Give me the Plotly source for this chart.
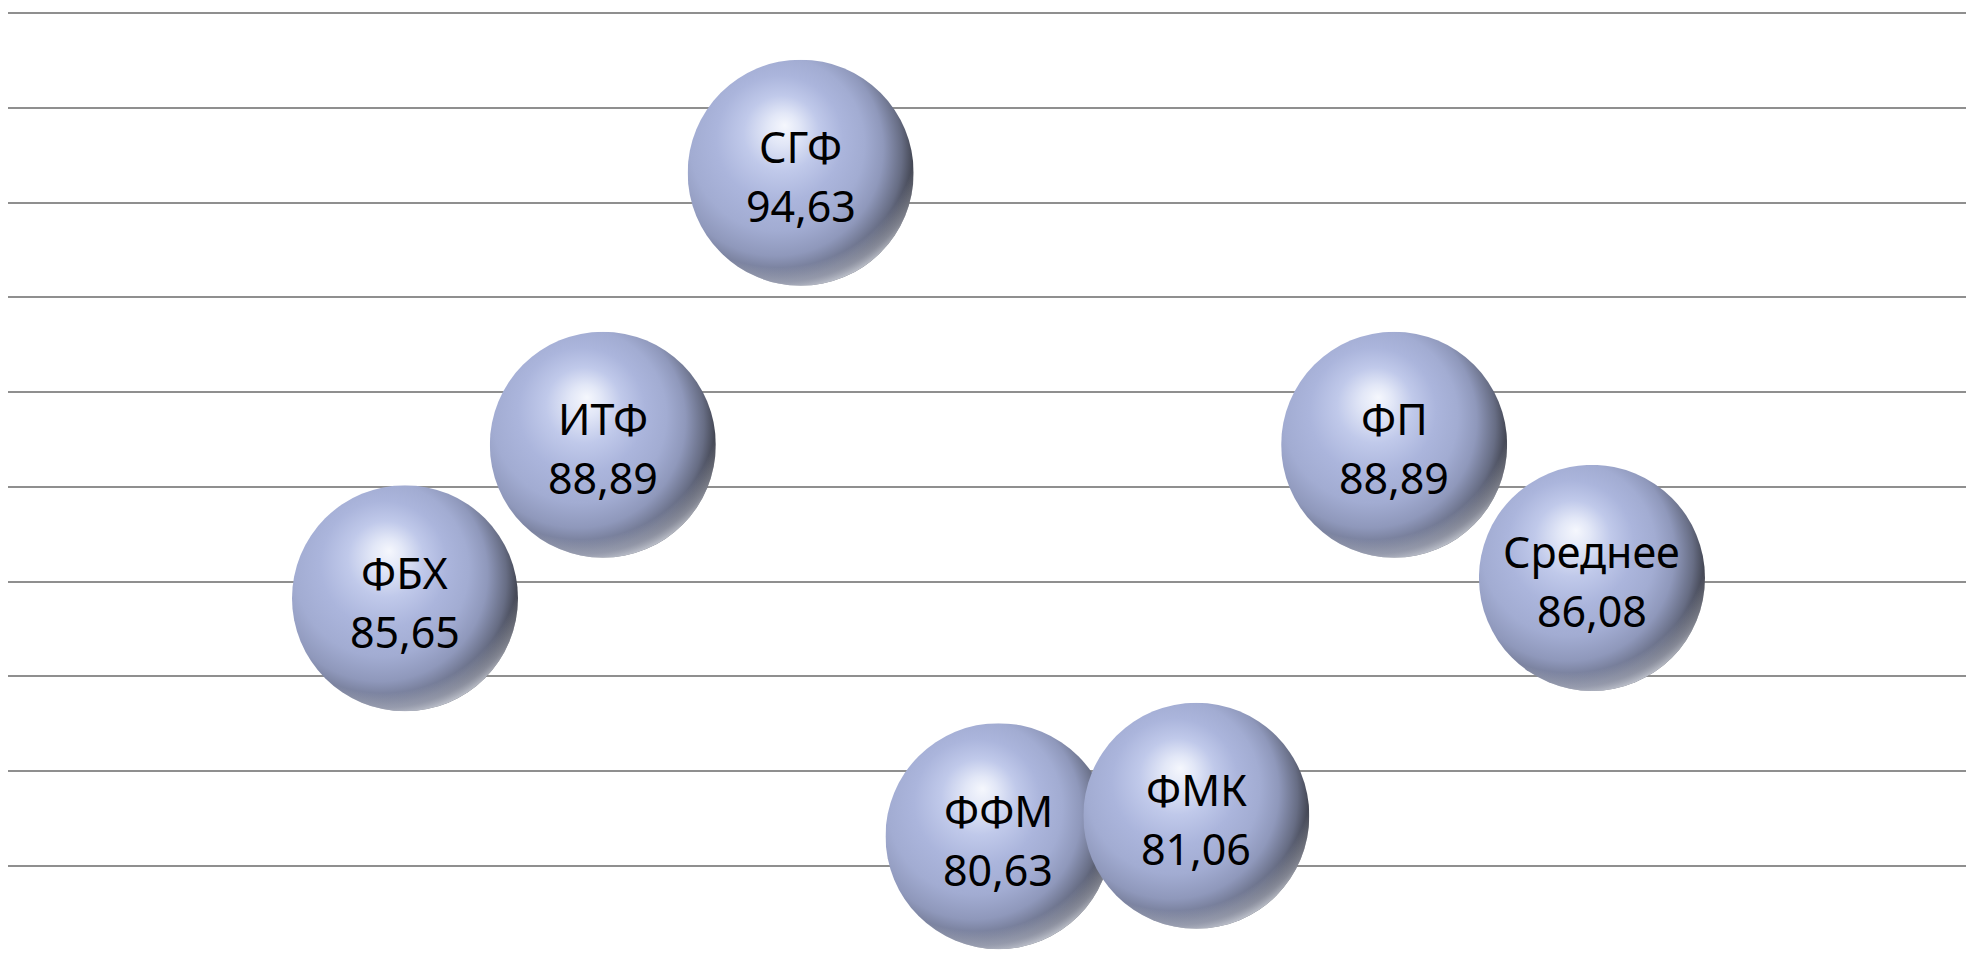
import base64
import plotly.graph_objects as go

# данные
names = ["ФБХ", "ИТФ", "СГФ", "ФФМ", "ФМК", "ФП", "Среднее"]
values = [85.65, 88.89, 94.63, 80.63, 81.06, 88.89, 86.08]
value_labels = ["85,65", "88,89", "94,63", "80,63", "81,06", "88,89", "86,08"]
positions = [1, 2, 3, 4, 5, 6, 7]

# страница html имеет отступ body 8px, поэтому фигура чуть меньше окна
W, H = 1958, 943
x_range = [-1.0068, 8.8906]
y_range = [78.2064, 98.1055]
px_x = W / (x_range[1] - x_range[0])
px_y = H / (y_range[1] - y_range[0])
D = 226  # диаметр шара, px

# объёмный шар (svg с радиальным градиентом)
sphere_svg = f"""<svg xmlns='http://www.w3.org/2000/svg' width='{D}' height='{D}' viewBox='0 0 {D} {D}'>
<defs>
<radialGradient id='b' cx='0.37' cy='0.44' r='0.70' fx='0.43' fy='0.29'>
<stop offset='0' stop-color='#f5f7fd'/>
<stop offset='0.10' stop-color='#e2e7f7'/>
<stop offset='0.24' stop-color='#c0c9ea'/>
<stop offset='0.40' stop-color='#abb5dc'/>
<stop offset='0.55' stop-color='#a2acd2'/>
<stop offset='0.68' stop-color='#8f98bb'/>
<stop offset='0.81' stop-color='#676d84'/>
<stop offset='0.91' stop-color='#393b45'/>
<stop offset='1' stop-color='#1c1d21'/>
</radialGradient>
<radialGradient id='r' cx='0.40' cy='0.30' r='0.72'>
<stop offset='0' stop-color='#dde1ec' stop-opacity='0'/>
<stop offset='0.86' stop-color='#dde1ec' stop-opacity='0'/>
<stop offset='0.95' stop-color='#d4d8e6' stop-opacity='0.45'/>
<stop offset='1' stop-color='#e0e4ee' stop-opacity='0.75'/>
</radialGradient>
</defs>
<circle cx='{D/2}' cy='{D/2}' r='{D/2}' fill='url(#b)'/>
<circle cx='{D/2}' cy='{D/2}' r='{D/2}' fill='url(#r)'/>
</svg>"""
sphere_src = "data:image/svg+xml;base64," + base64.b64encode(sphere_svg.encode()).decode()

fig = go.Figure()

fig.add_trace(go.Scatter(
    x=positions, y=values, mode="markers",
    marker=dict(size=D - 4, color="#9aa5cd", line=dict(width=0)),
    hoverinfo="skip", showlegend=False, cliponaxis=False,
))

for x, y in zip(positions, values):
    fig.add_layout_image(
        source=sphere_src, xref="x", yref="y", x=x, y=y,
        sizex=D / px_x, sizey=D / px_y, xanchor="center", yanchor="middle",
        sizing="stretch", layer="above",
    )

for x, y, n, v in zip(positions, values, names, value_labels):
    fig.add_annotation(x=x, y=y, text=n, showarrow=False, yshift=26,
                       font=dict(family="Noto Sans", size=43, color="black"))
    fig.add_annotation(x=x, y=y, text=v, showarrow=False, yshift=-33,
                       font=dict(family="Noto Sans", size=43, color="black"))

fig.update_xaxes(range=x_range, visible=False, showgrid=False, zeroline=False)
fig.update_yaxes(range=y_range, showgrid=True, gridcolor="#8f8f8f", gridwidth=1.6,
                 tick0=80, dtick=2, showticklabels=False, zeroline=False, ticks="")
fig.update_layout(
    width=W, height=H,
    margin=dict(l=0, r=0, t=0, b=0),
    plot_bgcolor="white", paper_bgcolor="white",
)

fig.write_html("out.html")
